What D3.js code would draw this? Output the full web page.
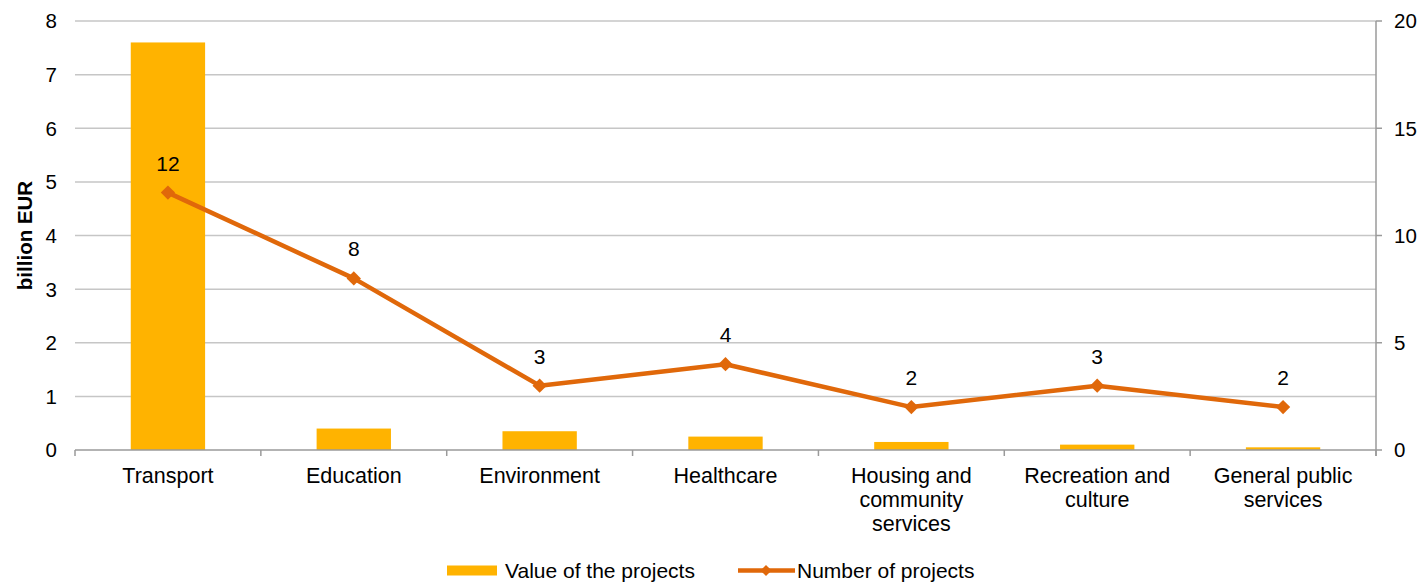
<!DOCTYPE html>
<html><head><meta charset="utf-8">
<script src="https://cdn.jsdelivr.net/npm/d3@7"></script>
<style>
html,body{margin:0;padding:0;background:#fff;}
text{font-family:"Liberation Sans",Arial,sans-serif;fill:#000;}
</style></head>
<body>
<svg id="chart" width="1422" height="583"></svg>
<script>
const categories = [["Transport"],["Education"],["Environment"],["Healthcare"],["Housing and","community","services"],["Recreation and","culture"],["General public","services"]];
const valueOfProjects = [7.6, 0.4, 0.35, 0.25, 0.15, 0.1, 0.05];
const numberOfProjects = [12, 8, 3, 4, 2, 3, 2];
const leftTicks = [0,1,2,3,4,5,6,7,8];
const rightTicks = [0,5,10,15,20];
const seriesNames = ["Value of the projects","Number of projects"];
const yTitle = "billion EUR";

(function(){
const barColor = "#FFB300", lineColor = "#E0680A", gridColor = "#C6C6C6", axisColor = "#9A9A9A";
const pL = 75, pR = 1376, pT = 21, pB = 450;
const svg = d3.select("#chart");
const ids = categories.map((c,i)=>i);
const x = d3.scaleBand().domain(ids).range([pL,pR]).paddingInner(0).paddingOuter(0);
const yL = d3.scaleLinear().domain([0,8]).range([pB,pT]);
const yR = d3.scaleLinear().domain([0,20]).range([pB,pT]);

svg.append("g").selectAll("line").data(leftTicks.filter(d=>d>0)).join("line")
  .attr("x1",pL).attr("x2",pR).attr("y1",d=>yL(d)).attr("y2",d=>yL(d))
  .attr("stroke",gridColor).attr("stroke-width",1.5);

svg.append("g").selectAll("text").data(leftTicks).join("text")
  .attr("x",57).attr("y",d=>yL(d)).attr("dy","0.36em").attr("text-anchor","end")
  .style("font-size","20.5px").text(d=>d);

svg.append("text").attr("transform",`translate(32,${(pT+pB)/2}) rotate(-90)`)
  .attr("text-anchor","middle").style("font-size","20.5px").style("font-weight","bold").text(yTitle);

const bw = x.bandwidth()*0.4;
svg.append("g").selectAll("rect").data(valueOfProjects).join("rect")
  .attr("x",(d,i)=>x(i)+x.bandwidth()/2-bw/2).attr("width",bw)
  .attr("y",d=>yL(d)).attr("height",d=>pB-yL(d)).attr("fill",barColor);

svg.append("line").attr("x1",pL).attr("x2",pR).attr("y1",pB).attr("y2",pB)
  .attr("stroke",axisColor).attr("stroke-width",1.5);
const bounds = ids.map(i=>x(i)).concat([pR]);
svg.append("g").selectAll("line").data(bounds).join("line")
  .attr("x1",d=>d).attr("x2",d=>d).attr("y1",pB).attr("y2",pB+6)
  .attr("stroke",axisColor).attr("stroke-width",1.5);

const cl = svg.append("g").selectAll("text").data(categories).join("text")
  .attr("text-anchor","middle").style("font-size","21.5px")
  .attr("transform",(d,i)=>`translate(${x(i)+x.bandwidth()/2},483)`);
cl.selectAll("tspan").data(d=>d).join("tspan").attr("x",0).attr("dy",(d,j)=>j===0?0:24).text(d=>d);

svg.append("line").attr("x1",pR).attr("x2",pR).attr("y1",pT).attr("y2",pB+6)
  .attr("stroke",axisColor).attr("stroke-width",1.5);
svg.append("g").selectAll("line").data(rightTicks).join("line")
  .attr("x1",pR).attr("x2",pR+6).attr("y1",d=>yR(d)).attr("y2",d=>yR(d))
  .attr("stroke",axisColor).attr("stroke-width",1.5);
svg.append("g").selectAll("text").data(rightTicks).join("text")
  .attr("x",1394).attr("y",d=>yR(d)).attr("dy","0.36em").style("font-size","20.5px").text(d=>d);

const line = d3.line().x((d,i)=>x(i)+x.bandwidth()/2).y(d=>yR(d));
svg.append("path").datum(numberOfProjects).attr("d",line).attr("fill","none")
  .attr("stroke",lineColor).attr("stroke-width",4.5).attr("stroke-linejoin","round");
const diamond = d3.symbol().type(d3.symbolDiamond2).size(130);
svg.append("g").selectAll("path").data(numberOfProjects).join("path")
  .attr("d",diamond).attr("fill",lineColor)
  .attr("transform",(d,i)=>`translate(${x(i)+x.bandwidth()/2},${yR(d)})`);
svg.append("g").selectAll("text").data(numberOfProjects).join("text")
  .attr("x",(d,i)=>x(i)+x.bandwidth()/2).attr("y",d=>yR(d)-22).attr("text-anchor","middle")
  .style("font-size","21px").text(d=>d);

const ly = 570.5;
const lg = svg.append("g");
lg.append("rect").attr("x",447).attr("y",ly-5).attr("width",50).attr("height",10).attr("fill",barColor);
lg.append("text").attr("x",505).attr("y",ly).attr("dy","0.36em").style("font-size","21px").text(seriesNames[0]);
lg.append("line").attr("x1",738).attr("x2",795).attr("y1",ly).attr("y2",ly).attr("stroke",lineColor).attr("stroke-width",4.5);
lg.append("path").attr("d",d3.symbol().type(d3.symbolDiamond2).size(80)).attr("fill",lineColor).attr("transform",`translate(766,${ly})`);
lg.append("text").attr("x",797).attr("y",ly).attr("dy","0.36em").style("font-size","21px").text(seriesNames[1]);
})();
</script>
</body></html>
